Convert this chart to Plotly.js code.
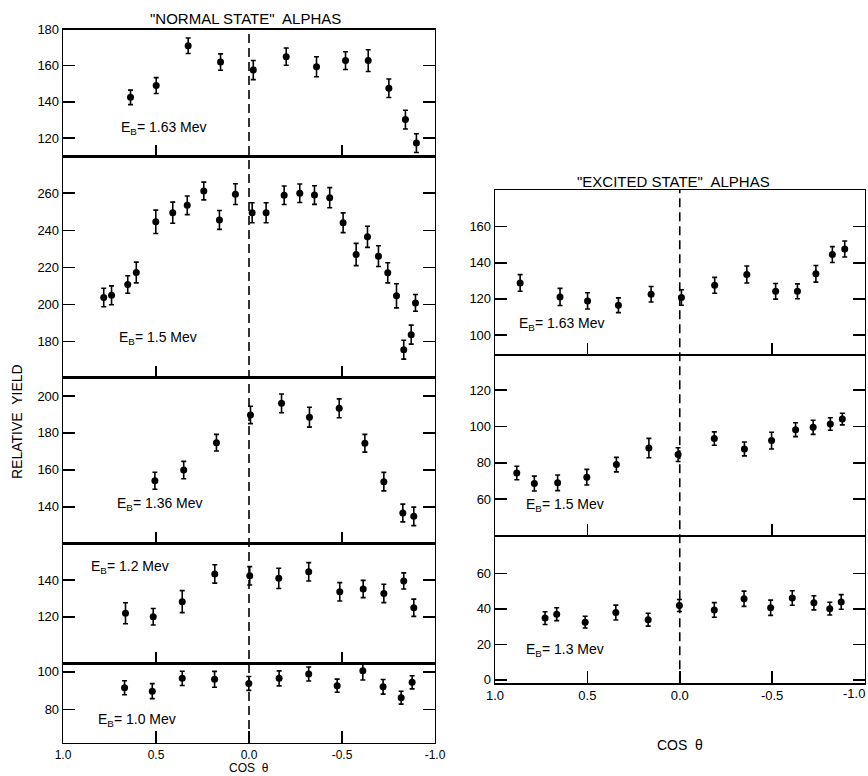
<!DOCTYPE html>
<html>
<head>
<meta charset="utf-8">
<script src="https://cdn.plot.ly/plotly-3.0.1.min.js"></script>
<style>html,body{margin:0;padding:0;background:#fff;}#chart{width:868px;height:776px;}</style>
</head>
<body>
<div id="chart"></div>
<script>
// ---- Normal state alphas ----
const n163Cos = [0.637, 0.499, 0.327, 0.153, -0.023, -0.2, -0.363, -0.519, -0.641, -0.752, -0.841, -0.9];
const n163Y   = [142.5, 149, 171, 162, 157.6, 165, 159.4, 162.8, 162.8, 147.5, 130.2, 117.2];
const n163Err = [4, 4.4, 4.3, 4.5, 5.3, 4.8, 5.5, 4.9, 6, 5.1, 5.2, 5.2];

const n15Cos = [0.781, 0.739, 0.652, 0.606, 0.501, 0.41, 0.332, 0.243, 0.159, 0.073, -0.017, -0.092, -0.189, -0.273, -0.352, -0.434, -0.506, -0.576, -0.637, -0.696, -0.746, -0.793, -0.832, -0.872, -0.895];
const n15Y   = [203.8, 205, 210.8, 217.3, 244.6, 249.5, 253.5, 261.2, 245.6, 259.5, 249.5, 249.5, 258.9, 260, 259, 257.6, 244.1, 227, 236.5, 226.1, 217.1, 204.7, 175.7, 183.8, 200.9];
const n15Err = [5, 5.1, 4.7, 5.6, 6.3, 5.7, 5, 4.8, 5.1, 5.6, 5.4, 5.4, 5, 5, 5, 5.4, 5.3, 6, 5.7, 5.6, 5.4, 6.5, 5.1, 5.1, 4.5];

const n136Cos = [0.506, 0.351, 0.175, -0.008, -0.175, -0.325, -0.485, -0.623, -0.725, -0.827, -0.886];
const n136Y   = [154.1, 159.9, 174.7, 189.7, 196, 188.5, 193.3, 174.4, 153.6, 136.6, 134.8];
const n136Err = [4.6, 4.7, 4.5, 4.7, 5.1, 5.4, 5.1, 4.8, 5, 4.8, 5];

const n12Cos = [0.664, 0.515, 0.359, 0.184, -0.004, -0.16, -0.321, -0.488, -0.614, -0.725, -0.832, -0.886];
const n12Y   = [121.9, 120, 128.2, 143.3, 142.3, 140.9, 144.5, 133.6, 135.1, 132.7, 139.5, 124.9];
const n12Err = [5.7, 4.5, 6, 5, 5, 5.5, 5, 5, 4.7, 5, 4.4, 4.7];

const n10Cos = [0.669, 0.52, 0.359, 0.185, 0.001, -0.162, -0.321, -0.474, -0.612, -0.721, -0.818, -0.877];
const n10Y   = [91.5, 89.7, 96.5, 96, 93.8, 96.5, 98.8, 92.6, 100.5, 92, 86.2, 94.4];
const n10Err = [3.7, 4, 3.8, 4.2, 3.7, 4, 3.7, 3.5, 4.9, 3.9, 3.4, 3.5];

// ---- Excited state alphas ----
const e163Cos = [0.864, 0.648, 0.499, 0.332, 0.155, -0.009, -0.189, -0.363, -0.519, -0.637, -0.737, -0.826, -0.893];
const e163Y   = [128.8, 121.1, 118.9, 116.5, 122.6, 120.8, 127.5, 133.5, 124.2, 124.2, 133.9, 144.5, 147.6];
const e163Err = [4.6, 4.7, 4.5, 4.1, 4.3, 4.3, 4.4, 4.7, 4.3, 4.1, 4.6, 4.4, 4.4];

const e15Cos = [0.882, 0.787, 0.661, 0.503, 0.343, 0.167, 0.009, -0.187, -0.35, -0.497, -0.627, -0.722, -0.815, -0.88];
const e15Y   = [74.4, 68.6, 69, 72.1, 79, 88.1, 84.5, 93.3, 87.6, 92.2, 98.2, 99.5, 101.3, 104];
const e15Err = [3.7, 4.1, 4.3, 4.3, 4, 5.3, 3.8, 3.7, 3.8, 4.6, 3.8, 3.9, 3.4, 3.2];

const e13Cos = [0.729, 0.666, 0.512, 0.346, 0.171, 0.002, -0.187, -0.348, -0.492, -0.609, -0.726, -0.812, -0.874];
const e13Y   = [34.8, 37, 32.5, 37.9, 33.9, 41.9, 39.4, 45.7, 40.6, 46.1, 43.4, 40.1, 43.9];
const e13Err = [3.6, 3.6, 3.3, 4.2, 3.6, 3.4, 4.1, 4.3, 4.3, 4.1, 4, 3.6, 4.1];

const xTickVals = [1, 0.5, 0, -0.5, -1];
const xTickText = ['1.0', '0.5', '0.0', '-0.5', '-1.0'];
// the right-hand bottom axis reaches the page edge; its last label is placed as a note
const xTickValsR = [1, 0.5, 0, -0.5];
const xTickTextR = ['1.0', '0.5', '0.0', '-0.5'];

const W = 868, H = 776;
const px = v => v / W;
const py = v => 1 - v / H;

const FONT = 'Liberation Sans, DejaVu Sans, Arial, sans-serif';

const panels = [
  {c: n163Cos, y: n163Y, e: n163Err, L: 63, R: 435, T: 29.5, B: 156.5, yr: [109.8, 180], yt: [120, 140, 160, 180], bottom: 0},
  {c: n15Cos, y: n15Y, e: n15Err, L: 63, R: 435, T: 156.5, B: 377.5, yr: [160.7, 279.8], yt: [180, 200, 220, 240, 260], bottom: 0},
  {c: n136Cos, y: n136Y, e: n136Err, L: 63, R: 435, T: 377.5, B: 543.5, yr: [120.1, 210], yt: [140, 160, 180, 200], bottom: 0},
  {c: n12Cos, y: n12Y, e: n12Err, L: 63, R: 435, T: 543.5, B: 663.5, yr: [94.5, 159.9], yt: [120, 140], bottom: 0},
  {c: n10Cos, y: n10Y, e: n10Err, L: 63, R: 435, T: 663.5, B: 743, yr: [62.1, 104.4], yt: [80, 100], bottom: 1},
  {c: e163Cos, y: e163Y, e: e163Err, L: 495, R: 864.5, T: 190, B: 355, yr: [89, 180.2], yt: [100, 120, 140, 160], bottom: 0},
  {c: e15Cos, y: e15Y, e: e15Err, L: 495, R: 864.5, T: 355, B: 536, yr: [39.8, 139.2], yt: [60, 80, 100, 120], bottom: 0},
  {c: e13Cos, y: e13Y, e: e13Err, L: 495, R: 864.5, T: 536, B: 683.3, yr: [-1.9, 81], yt: [0, 20, 40, 60], bottom: 2}
];

const data = [];
const layout = {
  width: W, height: H,
  margin: {l: 0, r: 0, t: 0, b: 0},
  paper_bgcolor: '#fff', plot_bgcolor: 'rgba(0,0,0,0)',
  showlegend: false,
  font: {family: FONT, color: '#000', size: 13},
  shapes: [], annotations: []
};

panels.forEach((p, i) => {
  const n = i + 1;
  const xa = n === 1 ? 'x' : 'x' + n;
  const ya = n === 1 ? 'y' : 'y' + n;
  data.push({
    type: 'scatter', mode: 'markers', x: p.c, y: p.y,
    xaxis: xa, yaxis: ya,
    marker: {color: '#000', size: 7},
    error_y: {type: 'data', array: p.e, visible: true, color: '#000', thickness: 1.6, width: 2.5},
    hoverinfo: 'skip'
  });
  const xKey = n === 1 ? 'xaxis' : 'xaxis' + n;
  const yKey = n === 1 ? 'yaxis' : 'yaxis' + n;
  const xa_ = {
    domain: [px(p.L), px(p.R)], anchor: ya, range: [1, -1],
    showgrid: false, zeroline: false, showline: true, mirror: true,
    linecolor: '#000', linewidth: 1.3,
    ticks: 'inside', ticklen: 12, tickwidth: 1.6, tickcolor: '#000',
    tickfont: {family: FONT, size: 12, color: '#000'},
    fixedrange: true
  };
  if (p.bottom === 1) {
    xa_.tickvals = xTickVals; xa_.ticktext = xTickText; xa_.showticklabels = true;
  } else if (p.bottom === 2) {
    xa_.tickvals = xTickValsR; xa_.ticktext = xTickTextR; xa_.showticklabels = true;
    xa_.tickfont = {family: FONT, size: 13, color: '#000'};
  } else {
    xa_.tickvals = [0.5, -0.5]; xa_.showticklabels = false;
  }
  layout[xKey] = xa_;
  layout[yKey] = {
    domain: [py(p.B), py(p.T)], anchor: xa, range: p.yr,
    showgrid: false, zeroline: false, showline: true, mirror: 'ticks',
    linecolor: '#000', linewidth: 1.3,
    ticks: 'inside', ticklen: 12, tickwidth: 1.6, tickcolor: '#000',
    tickvals: p.yt,
    tickfont: {family: FONT, size: 13, color: '#000'},
    fixedrange: true
  };
});

layout.shapes.push({type: 'line', xref: 'x', yref: 'paper', x0: 0, x1: 0, y0: py(743), y1: py(29.5),
  line: {color: '#000', width: 1.6, dash: '9px,5px'}});
layout.shapes.push({type: 'line', xref: 'x6', yref: 'paper', x0: 0, x1: 0, y0: py(683.3), y1: py(190),
  line: {color: '#000', width: 1.6, dash: '9px,5px'}});

function ann(text, x, y, opts) {
  layout.annotations.push(Object.assign({
    text: text, xref: 'paper', yref: 'paper', x: px(x), y: py(y),
    xanchor: 'left', yanchor: 'middle', showarrow: false,
    font: {family: FONT, size: 14, color: '#000'}
  }, opts || {}));
}

ann('"NORMAL STATE"  ALPHAS', 245, 18, {xanchor: 'center', font: {family: FONT, size: 15, color: '#000'}});
ann('"EXCITED STATE"  ALPHAS', 673, 181, {xanchor: 'center', font: {family: FONT, size: 15, color: '#000'}});

ann('E<sub>B</sub>= 1.63 Mev', 119, 128);
ann('E<sub>B</sub>= 1.5 Mev', 117, 338);
ann('E<sub>B</sub>= 1.36 Mev', 115, 504);
ann('E<sub>B</sub>= 1.2 Mev', 89, 567);
ann('E<sub>B</sub>= 1.0 Mev', 96, 720);
ann('E<sub>B</sub>= 1.63 Mev', 517, 324);
ann('E<sub>B</sub>= 1.5 Mev', 524, 505);
ann('E<sub>B</sub>= 1.3 Mev', 524, 650);

ann('-1.0', 867, 693, {xanchor: 'right', font: {family: FONT, size: 13, color: '#000'}});

ann('COS  θ', 249, 776, {xanchor: 'center', yanchor: 'bottom', borderpad: 0, font: {family: FONT, size: 12, color: '#000'}});
ann('COS  θ', 680, 745, {xanchor: 'center', font: {family: FONT, size: 14, color: '#000'}});
ann('RELATIVE  YIELD', 17, 422, {xanchor: 'center', textangle: -90, font: {family: FONT, size: 14, color: '#000'}});

Plotly.newPlot('chart', data, layout, {displayModeBar: false, staticPlot: true});
</script>
</body>
</html>
